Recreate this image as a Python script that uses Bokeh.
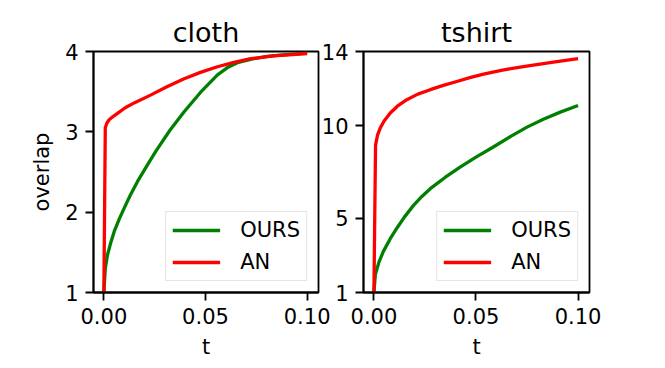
from bokeh.plotting import figure
from bokeh.layouts import row
from bokeh.models import FixedTicker, Range1d, Legend, LegendItem
from bokeh.embed import file_html
from bokeh.resources import INLINE

# ---------------- data ----------------
cloth_t_ours = [0, 0.0007, 0.0018, 0.0035, 0.0051, 0.0075, 0.010, 0.013, 0.0165, 0.021,
                0.0256, 0.0325, 0.0395, 0.0475, 0.0559, 0.0608, 0.0657, 0.0737, 0.0804,
                0.0868, 0.1]
cloth_ours = [1.0, 1.30, 1.47, 1.63, 1.76, 1.91, 2.05, 2.21, 2.38, 2.57,
              2.76, 3.02, 3.25, 3.49, 3.71, 3.80, 3.86, 3.91, 3.94,
              3.955, 3.98]

cloth_t_an = [0, 0.0007, 0.0015, 0.0026, 0.0045, 0.0067, 0.0105, 0.0149, 0.0232, 0.031,
              0.0395, 0.0475, 0.0559, 0.064, 0.0722, 0.0835, 0.1]
cloth_an = [1.0, 3.05, 3.11, 3.15, 3.19, 3.23, 3.30, 3.36, 3.46, 3.56,
            3.66, 3.74, 3.81, 3.865, 3.91, 3.945, 3.975]

tshirt_t_ours = [0, 0.0007, 0.0025, 0.0047, 0.008, 0.0113, 0.015, 0.0194, 0.0235, 0.0276,
                 0.035, 0.0424, 0.05, 0.0587, 0.067, 0.075, 0.083, 0.0913, 0.1]
tshirt_ours = [1.0, 1.97, 2.65, 3.23, 3.90, 4.48, 5.08, 5.70, 6.18, 6.60,
               7.22, 7.78, 8.30, 8.86, 9.42, 9.92, 10.35, 10.73, 11.09]

tshirt_t_an = [0, 0.0008, 0.0018, 0.0031, 0.005, 0.008, 0.0115, 0.0161, 0.0215, 0.0276,
               0.034, 0.0406, 0.047, 0.0537, 0.063, 0.0732, 0.0879, 0.1]
tshirt_an = [1.0, 8.95, 9.50, 9.87, 10.25, 10.68, 11.05, 11.40, 11.70, 11.94,
             12.17, 12.38, 12.59, 12.78, 13.00, 13.19, 13.43, 13.61]

x_ticks = [0, 0.05, 0.1]
x_tick_labels = ["0.00", "0.05", "0.10"]
cloth_y_ticks = [1, 2, 3, 4]
tshirt_y_ticks = [1, 5, 10, 14]

FONT = "DejaVu Sans"
GREEN = "#008000"
RED = "#ff0000"


def make_fig(title, t_ours, ours, t_an, an, yticks, ylabel, border_left, border_right, frame_w):
    p = figure(frame_width=frame_w, frame_height=241, output_backend="svg",
               toolbar_location=None,
               x_range=Range1d(-0.0051, 0.1056), y_range=Range1d(yticks[0], yticks[-1]),
               min_border_left=border_left, min_border_right=border_right,
               min_border_top=51, min_border_bottom=68, title=title)
    p.title.text_font = FONT
    p.title.text_font_size = "27px"
    p.title.text_font_style = "normal"
    p.title.text_color = "black"
    p.title.align = "center"
    p.title.standoff = 8
    p.grid.visible = False
    p.outline_line_color = "black"
    p.outline_line_width = 1.8
    p.outline_line_alpha = 1
    p.background_fill_color = "white"
    p.border_fill_color = None

    for ax in (p.xaxis[0], p.yaxis[0]):
        ax.axis_line_color = "black"
        ax.axis_line_width = 1.8
        ax.major_tick_line_width = 1.8
        ax.major_tick_out = 8
        ax.major_tick_in = 0
        ax.minor_tick_line_color = None
        ax.major_label_text_font = FONT
        ax.major_label_text_font_size = "21px"
        ax.major_label_text_color = "black"
        ax.major_label_standoff = 7
        ax.axis_label_text_font = FONT
        ax.axis_label_text_font_size = "21px"
        ax.axis_label_text_font_style = "normal"
        ax.axis_label_text_color = "black"
    p.xaxis[0].ticker = FixedTicker(ticks=x_ticks)
    p.xaxis[0].major_label_overrides = {x: s for x, s in zip(x_ticks, x_tick_labels)}
    p.xaxis[0].axis_label = "t"
    p.xaxis[0].axis_label_standoff = 8
    p.yaxis[0].ticker = FixedTicker(ticks=yticks)
    if ylabel:
        p.yaxis[0].axis_label = ylabel
        p.yaxis[0].axis_label_standoff = 8

    r1 = p.line(t_ours, ours, line_color=GREEN, line_width=3.3, line_join="round")
    r2 = p.line(t_an, an, line_color=RED, line_width=3.3, line_join="round")

    legend = Legend(items=[LegendItem(label="OURS", renderers=[r1]),
                           LegendItem(label="AN", renderers=[r2])],
                    location="bottom_right")
    legend.margin = 11
    legend.padding = 6
    legend.spacing = 8
    legend.glyph_width = 48
    legend.glyph_height = 24
    legend.label_height = 24
    legend.label_standoff = 20
    legend.label_text_font = FONT
    legend.label_text_font_size = "21px"
    legend.label_text_color = "black"
    legend.border_line_color = "#cccccc"
    legend.border_line_width = 1.8
    legend.background_fill_color = "white"
    legend.background_fill_alpha = 0.8
    p.add_layout(legend, "center")
    return p


p1 = make_fig("cloth", cloth_t_ours, cloth_ours, cloth_t_an, cloth_an,
              cloth_y_ticks, "overlap", 93, 20, 225)
p2 = make_fig("tshirt", tshirt_t_ours, tshirt_ours, tshirt_t_an, tshirt_an,
              tshirt_y_ticks, None, 45, 30, 226)
p2.styles = {"margin-left": "-20px"}

layout = row(p1, p2)
open("out.html", "w").write(file_html(layout, INLINE))
